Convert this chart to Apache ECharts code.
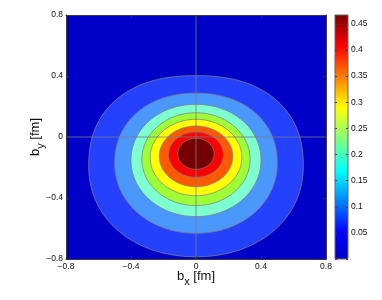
<!DOCTYPE html>
<html><head><meta charset="utf-8">
<script src="https://cdn.jsdelivr.net/npm/echarts@6/dist/echarts.min.js"></script>
<style>html,body{margin:0;padding:0;background:#fff}#c{width:382px;height:300px}</style>
</head><body><div id="c"></div>
<script>
// ---- data, contours from outermost to innermost, in fm ----
const contourHalfWidth = [0.66, 0.50, 0.40, 0.333, 0.282, 0.226, 0.169, 0.112];
const contourTop       = [0.402, 0.287, 0.214, 0.159, 0.116, 0.072, 0.033, -0.009];
const contourBottom    = [-0.785, -0.631, -0.522, -0.45, -0.385, -0.326, -0.264, -0.212];
const contourTopShape    = [2.3, 2.15, 2.05, 2.0, 2.0, 2.0, 2.0, 2.0];
const contourBottomShape = [2.1, 2.05, 2.0, 2.0, 2.0, 2.0, 2.0, 2.0];
const axisMin = -0.8, axisMax = 0.8, axisStep = 0.4;
const colorbarMin = 0, colorbarMax = 0.467, colorbarStep = 0.05;
const crossLines = [[[0, -0.8], [0, 0.8]], [[-0.8, 0], [0.8, 0]]];

// ---- styles ----
const FONT = 'Liberation Sans, Arial, Helvetica, sans-serif';
const backgroundFill = '#0000c8';
const bandFills = ['#2341ff', '#4a98ff', '#7effcf', '#9eff36', '#ffff00', '#ff5a00', '#ff0000', '#740000'];
const contourStroke = '#7d7d8a';
const jetStops = [
  {offset: 0, color: '#0000c0'}, {offset: 0.11, color: '#0000ff'},
  {offset: 0.36, color: '#00ffff'}, {offset: 0.62, color: '#ffff00'},
  {offset: 0.87, color: '#ff0000'}, {offset: 1, color: '#780000'}
];
const minus = v => String(v).replace('-', '\u2212');

const chart = echarts.init(document.getElementById('c'), null, {renderer: 'canvas'});

function contourItem(params, api) {
  const i = api.value(2);
  const a = contourHalfWidth[i], top = contourTop[i], bot = contourBottom[i];
  const yc = (top + bot) / 2, bt = top - yc, bb = yc - bot;
  const pts = [];
  const N = 240;
  for (let k = 0; k < N; k++) {
    const th = 2 * Math.PI * k / N;
    const c = Math.cos(th), s = Math.sin(th);
    const up = s >= 0;
    const n = up ? contourTopShape[i] : contourBottomShape[i];
    const x = a * Math.sign(c) * Math.pow(Math.abs(c), 2 / n);
    const y = yc + (up ? bt : bb) * Math.sign(s) * Math.pow(Math.abs(s), 2 / n);
    pts.push(api.coord([x, y]));
  }
  return {type: 'polygon', shape: {points: pts},
    style: {fill: bandFills[i], stroke: contourStroke, lineWidth: 0.8}};
}

function colorbarItem(params, api) {
  const p0 = api.coord([0, colorbarMin]);
  const p1 = api.coord([1, api.value(1)]);
  return {type: 'rect',
    shape: {x: p0[0], y: p1[1], width: p1[0] - p0[0], height: p0[1] - p1[1]},
    style: {fill: new echarts.graphic.LinearGradient(0, 1, 0, 0, jetStops), stroke: '#666', lineWidth: 1}};
}

const tickLabel = {fontFamily: FONT, fontSize: 8.5, color: '#111'};
const nameRich = {
  m: {fontFamily: FONT, fontSize: 13, color: '#111', lineHeight: 15, verticalAlign: 'top'},
  s: {fontFamily: FONT, fontSize: 11, color: '#111', lineHeight: 13, padding: [6, 0, 0, 0], verticalAlign: 'top'}
};
const frameLine = {show: true, onZero: false, lineStyle: {color: '#3a3a3a', width: 1}};
const innerTick = {show: true, inside: true, length: 3, lineStyle: {color: '#333'}};

chart.setOption({
  animation: false,
  grid: [
    {left: 66, top: 15, width: 260, height: 244, show: true, backgroundColor: backgroundFill, borderWidth: 0},
    {left: 335, top: 15, width: 13, height: 244}
  ],
  xAxis: [
    {type: 'value', gridIndex: 0, min: axisMin, max: axisMax, interval: axisStep, position: 'bottom', z: 10,
     axisLine: frameLine, axisTick: innerTick, splitLine: {show: false},
     axisLabel: Object.assign({margin: 3, formatter: minus}, tickLabel),
     name: '{m|b}{s|x}{m| [fm]}', nameLocation: 'middle', nameGap: 11, nameMoveOverlap: false,
     nameTextStyle: {rich: nameRich}},
    {type: 'value', gridIndex: 0, min: axisMin, max: axisMax, interval: axisStep, position: 'top', z: 10,
     axisLine: frameLine, axisTick: innerTick, axisLabel: {show: false}, splitLine: {show: false}},
    {type: 'value', gridIndex: 1, min: 0, max: 1, show: false}
  ],
  yAxis: [
    {type: 'value', gridIndex: 0, min: axisMin, max: axisMax, interval: axisStep, position: 'left', z: 10,
     axisLine: frameLine, axisTick: innerTick, splitLine: {show: false},
     axisLabel: Object.assign({margin: 3, formatter: minus}, tickLabel),
     name: '{m|b}{s|y}{m| [fm]}', nameLocation: 'middle', nameGap: 22, nameRotate: 90, nameMoveOverlap: false,
     nameTextStyle: {rich: nameRich}},
    {type: 'value', gridIndex: 0, min: axisMin, max: axisMax, interval: axisStep, position: 'right', z: 10,
     axisLine: frameLine, axisTick: innerTick, axisLabel: {show: false}, splitLine: {show: false}},
    {type: 'value', gridIndex: 1, min: colorbarMin, max: colorbarMax, interval: colorbarStep, position: 'right', z: 10,
     axisLine: {show: false, onZero: false}, splitLine: {show: false},
     axisTick: {show: true, inside: true, length: 2, lineStyle: {color: '#444'}},
     axisLabel: Object.assign({margin: 3, showMaxLabel: false,
       formatter: v => (v === 0 ? '' : String(+v.toFixed(2)))}, tickLabel)},
    {type: 'value', gridIndex: 1, min: colorbarMin, max: colorbarMax, interval: colorbarStep, position: 'left', z: 10,
     axisLine: {show: false, onZero: false}, splitLine: {show: false}, axisLabel: {show: false},
     axisTick: {show: true, inside: true, length: 2, lineStyle: {color: '#444'}}}
  ],
  series: [
    {type: 'custom', xAxisIndex: 0, yAxisIndex: 0, silent: true, z: 2, clip: true,
     renderItem: contourItem,
     data: contourTop.map((t, i) => [0, t, i])},
    {type: 'line', xAxisIndex: 0, yAxisIndex: 0, silent: true, z: 3, symbol: 'none',
     lineStyle: {color: '#7a7a88', width: 0.8}, data: crossLines[0]},
    {type: 'line', xAxisIndex: 0, yAxisIndex: 0, silent: true, z: 3, symbol: 'none',
     lineStyle: {color: '#7a7a88', width: 0.8}, data: crossLines[1]},
    {type: 'custom', xAxisIndex: 2, yAxisIndex: 2, silent: true, z: 2,
     renderItem: colorbarItem, data: [[0, colorbarMax]]}
  ]
});
</script></body></html>
